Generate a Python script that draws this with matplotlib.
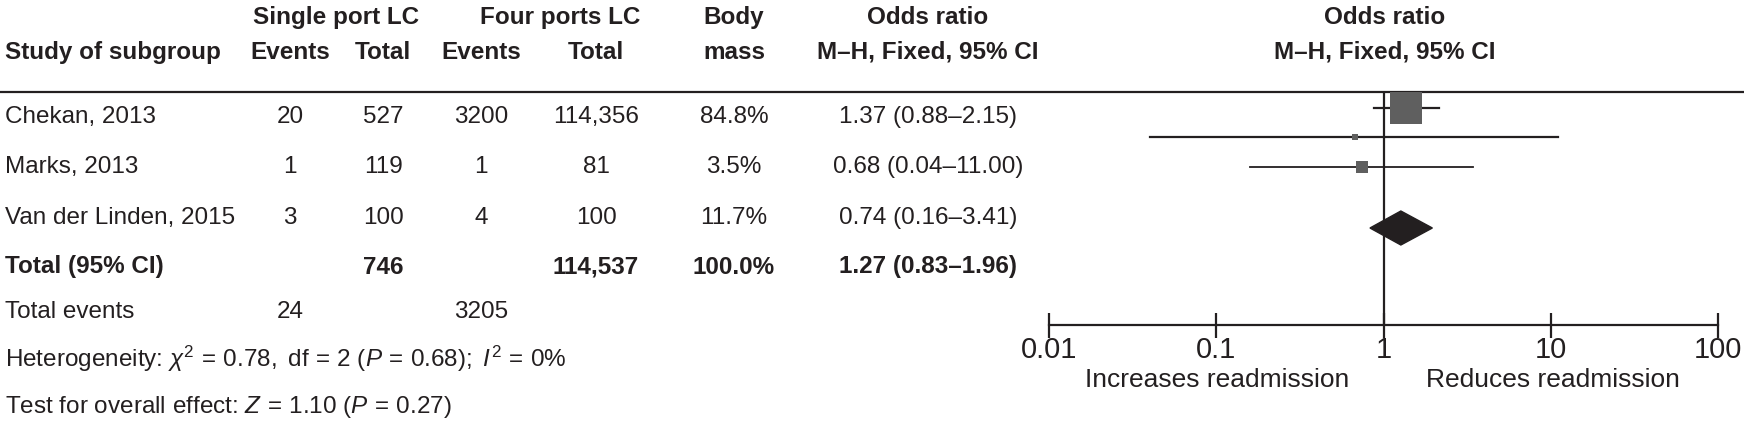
import numpy as np
import matplotlib
matplotlib.use("Agg")
import matplotlib.pyplot as plt

# ==================== 数据 ====================
studies = ["Chekan, 2013", "Marks, 2013", "Van der Linden, 2015"]
single_events = ["20", "1", "3"]
single_total = ["527", "119", "100"]
four_events = ["3200", "1", "4"]
four_total = ["114,356", "81", "100"]
body_mass = ["84.8%", "3.5%", "11.7%"]
or_text = ["1.37 (0.88\u20132.15)", "0.68 (0.04\u201311.00)", "0.74 (0.16\u20133.41)"]

or_est = [1.37, 0.68, 0.74]
or_low = [0.88, 0.04, 0.16]
or_high = [2.15, 11.00, 3.41]
weights = [84.8, 3.5, 11.7]

total_single = "746"
total_four = "114,537"
total_weight = "100.0%"
total_or_text = "1.27 (0.83\u20131.96)"
total_or = 1.27
total_low = 0.83
total_high = 1.96
events_single = "24"
events_four = "3205"

xticks = [0.01, 0.1, 1, 10, 100]
xtick_labels = ["0.01", "0.1", "1", "10", "100"]

# ==================== 字体 ====================
FONT = ["Liberation Sans", "DejaVu Sans"]
plt.rcParams["font.family"] = FONT
plt.rcParams["mathtext.fontset"] = "custom"
plt.rcParams["mathtext.rm"] = "Liberation Sans"
plt.rcParams["mathtext.it"] = "Liberation Sans:italic"
FS = 17.5
INK = "#231f20"

W, H = 1744, 425
fig = plt.figure(figsize=(W / 100, H / 100), dpi=100)
ax = fig.add_axes([0, 0, 1, 1])
ax.set_xlim(0, W)
ax.set_ylim(H, 0)
ax.axis("off")

# 列位置 (像素)
x_study, x_ev1, x_tot1, x_ev2, x_tot2, x_mass, x_or = 5, 290, 383, 481, 596, 734, 928
row_y = [117, 167, 218]
y_total, y_events, y_het, y_test = 267, 312, 359, 407
y_h1, y_h2, y_line = 17, 52, 92
x_one = 1385

def t(x, y, s, ha="center", bold=False, size=FS):
    ax.text(x, y, s, ha=ha, va="center", fontsize=size,
            fontweight="bold" if bold else "normal", color=INK)

# 表头
t(336, y_h1, "Single port LC", bold=True)
t(560, y_h1, "Four ports LC", bold=True)
t(x_mass, y_h1, "Body", bold=True)
t(x_or, y_h1, "Odds ratio", bold=True)
t(x_one, y_h1, "Odds ratio", bold=True)
t(x_study, y_h2, "Study of subgroup", ha="left", bold=True)
t(x_ev1, y_h2, "Events", bold=True)
t(x_tot1, y_h2, "Total", bold=True)
t(x_ev2, y_h2, "Events", bold=True)
t(x_tot2, y_h2, "Total", bold=True)
t(x_mass, y_h2, "mass", bold=True)
t(x_or, y_h2, "M\u2013H, Fixed, 95% CI", bold=True)
t(x_one, y_h2, "M\u2013H, Fixed, 95% CI", bold=True)
ax.plot([0, W], [y_line, y_line], color=INK, lw=1.6)

# 各研究行
for i, y in enumerate(row_y):
    t(x_study, y, studies[i], ha="left")
    t(x_ev1, y, single_events[i])
    t(x_tot1, y, single_total[i])
    t(x_ev2, y, four_events[i])
    t(x_tot2, y, four_total[i])
    t(x_mass, y, body_mass[i])
    t(x_or, y, or_text[i])

t(x_study, y_total, "Total (95% CI)", ha="left", bold=True)
t(x_tot1, y_total, total_single, bold=True)
t(x_tot2, y_total, total_four, bold=True)
t(x_mass, y_total, total_weight, bold=True)
t(x_or, y_total, total_or_text, bold=True)
t(x_study, y_events, "Total events", ha="left")
t(x_ev1, y_events, events_single)
t(x_ev2, y_events, events_four)
t(x_study, y_het,
  r"Heterogeneity: $\chi^2\,=\,0.78,\ \mathrm{df}\,=\,2\ (P\,=\,0.68);\ I^2\,=\,0\%$",
  ha="left")
t(x_study, y_test, r"Test for overall effect: $Z\,=\,1.10\ (P\,=\,0.27)$", ha="left")

# ==================== 森林图 ====================
x0, x1 = 1049, 1718
y_top, y_axis = y_line, 325
fax = fig.add_axes([x0 / W, 1 - y_axis / H, (x1 - x0) / W, (y_axis - y_top) / H])
fax.set_xscale("log")
fax.set_xlim(0.01, 100)
fax.set_ylim(y_axis, y_top)
fax.patch.set_alpha(0)
for s in ["top", "left", "right"]:
    fax.spines[s].set_visible(False)
fax.spines["bottom"].set_linewidth(1.6)
fax.spines["bottom"].set_color(INK)
fax.set_yticks([])
fax.set_xticks(xticks)
fax.set_xticklabels(xtick_labels, fontsize=21, color=INK)
fax.minorticks_off()
fax.tick_params(axis="x", direction="inout", length=18, width=1.6, pad=-1, color=INK)
fax.tick_params(axis="x", which="minor", length=0)

# 点估计位置（原图与文字行有偏移）
mark_y = [108, 137, 167]
max_px = 32
for i in range(3):
    lw = 1.6 if i < 2 else 1.3
    fax.plot([or_low[i], or_high[i]], [mark_y[i]] * 2, color=INK, lw=lw, zorder=2)
    ms = max_px * np.sqrt(weights[i] / weights[0]) * 0.72
    fax.plot([or_est[i]], [mark_y[i]], marker="s", ms=ms, color="#5f5f5f",
             markeredgewidth=0, zorder=3, clip_on=False)

# 合并效应菱形
yd = 228
fax.fill([total_low, total_or, total_high, total_or], [yd, yd - 17, yd, yd + 17],
         color=INK, zorder=3)
fax.axvline(1, color=INK, lw=1.6, zorder=1)

fig.text(1217 / W, 1 - 380 / H, "Increases readmission", ha="center", va="center",
         fontsize=19, color=INK)
fig.text(1553 / W, 1 - 380 / H, "Reduces readmission", ha="center", va="center",
         fontsize=19, color=INK)

fig.savefig("out.png", dpi=100)
